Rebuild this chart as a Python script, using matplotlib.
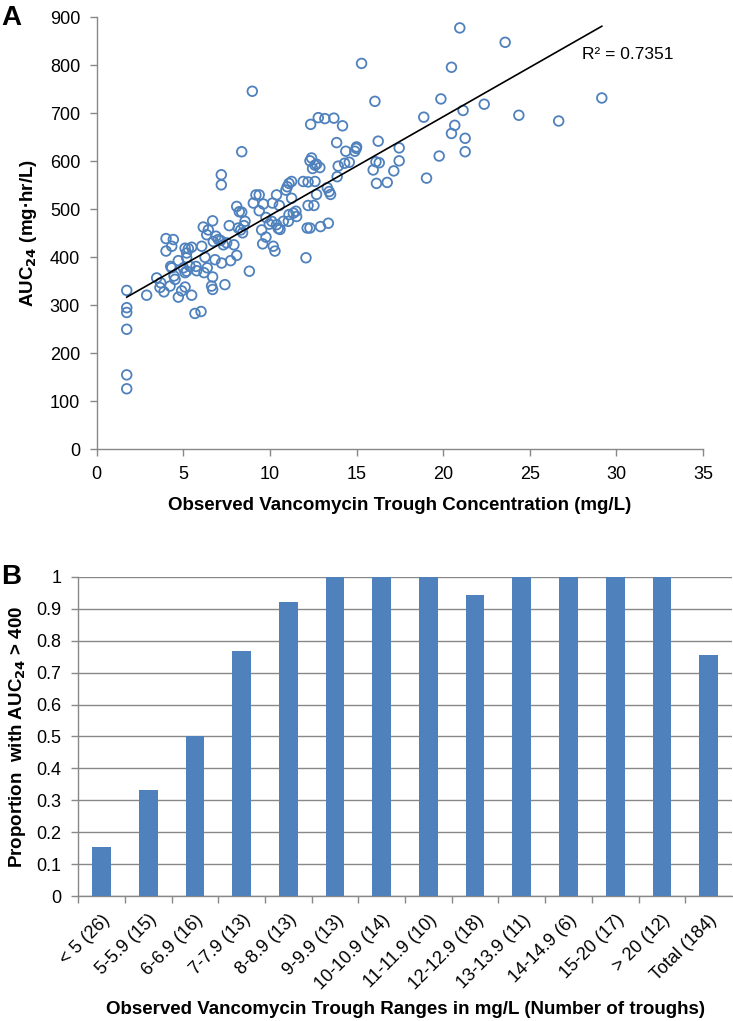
import numpy as np
import matplotlib
matplotlib.use('Agg')
import matplotlib.pyplot as plt

plt.rcParams['font.family'] = ['Liberation Sans', 'DejaVu Sans']

# ---- Panel A: trough vs AUC24 ----
trough = [1.73, 1.73, 1.73, 1.73, 1.73, 1.73, 2.88, 3.46, 3.69, 3.65, 3.88, 4.0, 4.0, 4.42, 4.33,
          4.27, 4.33, 4.23, 4.46, 4.52, 4.71, 4.71, 4.9, 5.1, 5.1, 5.29, 5.19, 5.19, 5.0, 5.19,
          5.1, 5.38, 5.48, 5.48, 5.67, 6.02, 5.73, 5.77, 6.06, 6.25, 6.15, 6.35, 6.44, 6.69, 6.38,
          6.19, 6.69, 6.63, 6.69, 6.73, 6.88, 7.02, 6.83, 7.15, 7.21, 7.19, 7.19, 7.4, 7.31, 7.5,
          7.65, 7.73, 7.92, 8.08, 8.23, 8.37, 8.37, 8.08, 8.17, 8.31, 8.5, 8.42, 8.56, 8.81, 8.98,
          9.19, 9.38, 9.04, 9.38, 9.62, 9.52, 9.58, 9.77, 9.77, 9.96, 10.1, 10.15, 10.19, 10.29, 10.38,
          10.38, 10.48, 10.58, 10.54, 10.77, 10.92, 11.0, 11.1, 11.25, 11.25, 11.06, 11.1, 11.35, 11.5, 11.54,
          11.92, 12.2, 12.08, 12.2, 12.15, 12.31, 12.31, 12.4, 12.46, 12.35, 12.6, 12.54, 12.6, 12.69, 12.79,
          12.88, 12.69, 12.92, 13.17, 13.37, 13.42, 13.5, 13.31, 13.69, 13.85, 13.88, 13.94, 14.19, 14.31, 14.38,
          14.58, 14.9, 15.0, 14.98, 15.29, 15.96, 16.06, 16.15, 16.12, 16.25, 16.31, 16.77, 17.15, 17.46, 17.46,
          18.88, 19.04, 19.77, 19.87, 20.48, 20.48, 20.67, 20.96, 21.15, 21.27, 21.27, 22.37, 23.58, 24.37, 26.67,
          29.16]
auc = [331, 295, 285, 250, 155, 126, 321, 357, 347, 337, 328, 439, 413, 437, 423,
       381, 378, 340, 361, 354, 393, 317, 330, 338, 419, 418, 409, 399, 378, 371,
       368, 381, 421, 321, 283, 287, 381, 372, 423, 400, 463, 447, 457, 476, 378,
       368, 359, 340, 333, 433, 444, 437, 395, 435, 388, 572, 551, 343, 426, 430,
       466, 393, 426, 506, 495, 494, 620, 404, 461, 457, 466, 451, 475, 371, 746,
       530, 530, 513, 497, 511, 457, 428, 442, 483, 469, 475, 513, 423, 413, 530,
       468, 460, 458, 508, 475, 540, 547, 554, 558, 523, 475, 489, 492, 496, 485,
       558, 557, 399, 508, 461, 461, 601, 607, 585, 677, 558, 508, 592, 594, 691,
       587, 531, 464, 689, 471, 537, 531, 545, 690, 639, 568, 590, 674, 596, 621,
       598, 621, 630, 627, 804, 582, 725, 554, 599, 642, 597, 556, 580, 628, 601,
       692, 565, 611, 730, 796, 658, 675, 878, 706, 648, 620, 719, 848, 696, 684,
       732]
r2_text = 'R² = 0.7351'

# ---- Panel B: proportion with AUC24 > 400 ----
ranges = ['< 5 (26)', '5-5.9 (15)', '6-6.9 (16)', '7-7.9 (13)', '8-8.9 (13)', '9-9.9 (13)',
          '10-10.9 (14)', '11-11.9 (10)', '12-12.9 (18)', '13-13.9 (11)', '14-14.9 (6)',
          '15-20 (17)', '> 20 (12)', 'Total (184)']
proportion = [0.154, 0.333, 0.5, 0.769, 0.923, 1, 1, 1, 0.944, 1, 1, 1, 1, 0.755]

blue = '#4F81BD'
grey = '#888888'
lab_font = dict(fontweight='bold', fontsize=13.5)

fig = plt.figure(figsize=(7.33, 10.21), dpi=100)

ax1 = fig.add_axes([0.132, 0.560, 0.827, 0.423])
ax1.scatter(trough, auc, s=48, facecolors='none', edgecolors=blue, linewidths=1.3, zorder=3)
m, b = np.polyfit(trough, auc, 1)
xl = np.array([min(trough), max(trough)])
ax1.plot(xl, m * xl + b, color='black', lw=1.2, zorder=4)
ax1.text(28.0, 822, r2_text, fontsize=12.5, va='center', ha='left')
ax1.set_xlim(0, 35)
ax1.set_ylim(0, 900)
ax1.set_xticks(range(0, 36, 5))
ax1.set_yticks(range(0, 901, 100))
ax1.set_xlabel('Observed Vancomycin Trough Concentration (mg/L)', labelpad=10, **lab_font)
ax1.set_ylabel(r'AUC$_{\mathbf{24}}$ (mg·hr/L)', labelpad=8, **lab_font)

ax2 = fig.add_axes([0.1066, 0.1224, 0.892, 0.3125])
x = np.arange(len(ranges))
ax2.bar(x, proportion, width=0.4, color=blue, zorder=3)
ax2.set_xlim(-0.5, len(ranges) - 0.5)
ax2.set_ylim(0, 1)
ax2.set_yticks(np.arange(0, 1.01, 0.1))
ax2.set_yticklabels(['0', '0.1', '0.2', '0.3', '0.4', '0.5', '0.6', '0.7', '0.8', '0.9', '1'])
ax2.set_xticks(x - 0.5, minor=False)
ax2.set_xticklabels([])
ax2.set_xticks(x, minor=True)
ax2.set_xticklabels(ranges, minor=True, rotation=45, ha='right', rotation_mode='anchor')
ax2.yaxis.grid(True, color=grey, lw=1.0, zorder=0)
ax2.set_xlabel('Observed Vancomycin Trough Ranges in mg/L (Number of troughs)', **lab_font)
ax2.xaxis.set_label_coords(0.5, -0.33)
ax2.set_ylabel(r'Proportion  with AUC$_{\mathbf{24}}$ > 400', labelpad=6, **lab_font)

for ax in (ax1, ax2):
    for side in ('top', 'right'):
        ax.spines[side].set_visible(False)
    for side in ('left', 'bottom'):
        ax.spines[side].set_color(grey)
        ax.spines[side].set_linewidth(1.0)
    ax.tick_params(which='major', color=grey, length=5, width=1.0, labelsize=13, pad=7, direction='out')

ax2.tick_params(axis='x', which='minor', length=0, pad=11, labelsize=13)

fig.text(0.002, 0.995, 'A', fontsize=20, fontweight='bold', va='top', ha='left')
fig.text(0.002, 0.435, 'B', fontsize=20, fontweight='bold', va='center', ha='left')

fig.savefig('out.png', dpi=100)
